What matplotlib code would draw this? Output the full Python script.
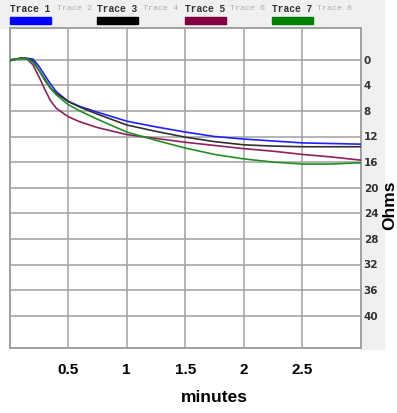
import matplotlib
matplotlib.use("Agg")
import matplotlib.pyplot as plt
from matplotlib.patches import Rectangle

# minutes
t = [0, 0.1, 0.15, 0.2, 0.25, 0.3, 0.35, 0.4, 0.5, 0.6, 0.75,
     1.0, 1.25, 1.5, 1.75, 2.0, 2.25, 2.5, 2.75, 3.0]

# ohms
trace1 = [0, -0.2, -0.2, -0.1, 1.0, 2.4, 3.8, 5.0, 6.5, 7.3, 8.2,
          9.6, 10.5, 11.3, 12.0, 12.4, 12.7, 13.0, 13.1, 13.2]
trace3 = [0.2, -0.3, -0.2, 0.2, 1.6, 3.0, 4.4, 5.3, 6.5, 7.4, 8.5,
          10.2, 11.2, 12.1, 12.8, 13.3, 13.5, 13.6, 13.6, 13.6]
trace5 = [0.1, -0.2, -0.1, 0.8, 2.6, 4.6, 6.4, 7.6, 8.9, 9.7, 10.6,
          11.7, 12.3, 12.9, 13.4, 13.9, 14.3, 14.8, 15.2, 15.7]
trace7 = [0.1, -0.2, -0.1, 0.4, 1.6, 3.2, 4.5, 5.5, 7.0, 8.0, 9.3,
          11.3, 12.6, 13.8, 14.8, 15.5, 16.0, 16.3, 16.3, 16.1]

trace_names = ["Trace 1", "Trace 2", "Trace 3", "Trace 4",
               "Trace 5", "Trace 6", "Trace 7", "Trace 8"]
trace_colors = {"Trace 1": "#0000ff", "Trace 3": "#000000",
                "Trace 5": "#800040", "Trace 7": "#008000"}

x_ticks = [0.5, 1, 1.5, 2, 2.5]
y_ticks = [0, 4, 8, 12, 16, 20, 24, 28, 32, 36, 40]

W, H = 397, 413
fig = plt.figure(figsize=(W / 100, H / 100), dpi=100)

# light gray panel behind legend and right labels
fig.patches.append(Rectangle((0, 1 - 27.7 / H), 384 / W, 27.7 / H,
                             transform=fig.transFigure, color="#f0f0f0", zorder=-1))
fig.patches.append(Rectangle((361 / W, 1 - 349 / H), 23 / W, (349 - 27.7) / H,
                             transform=fig.transFigure, color="#f0f0f0", zorder=-1))

ax = fig.add_axes([9.5 / W, 1 - 347.7 / H, (361 - 9.5) / W, (347.7 - 27.7) / H])
ax.set_facecolor("white")

line_colors = {"Trace 1": "#2020ff", "Trace 3": "#303030",
               "Trace 5": "#902060", "Trace 7": "#209020"}
for name, ys in [("Trace 1", trace1), ("Trace 3", trace3),
                 ("Trace 5", trace5), ("Trace 7", trace7)]:
    ax.plot(t, ys, color=line_colors[name], lw=1.2, zorder=3)

ax.set_xlim(0, 3)
ax.set_ylim(45, -5)
ax.set_xticks(x_ticks)
ax.set_xticklabels(["0.5", "1", "1.5", "2", "2.5"])
ax.set_yticks(y_ticks)
ax.yaxis.tick_right()
ax.grid(True, color="#a0a0a0", lw=1.1)
ax.set_axisbelow(True)
for s in ax.spines.values():
    s.set_color("#a0a0a0")
    s.set_linewidth(1.4)
ax.tick_params(axis="both", length=0)
ax.tick_params(axis="x", pad=11, labelsize=11)
ax.tick_params(axis="y", pad=2, labelsize=7.5, labelcolor="#333333")
for tk in ax.xaxis.get_major_ticks():
    for lab in (tk.label1, tk.label2):
        lab.set_fontweight("bold")
        lab.set_family("Liberation Sans")
for tk in ax.yaxis.get_major_ticks():
    for lab in (tk.label1, tk.label2):
        lab.set_fontweight("bold")
        lab.set_family("DejaVu Sans")

fig.text(214 / W, 1 - 398 / H, "minutes", ha="center", va="center",
         fontsize=12.5, fontweight="bold", family="Liberation Sans")
fig.text(390 / W, 1 - 205 / H, "Ohms", ha="center", va="center", rotation=90,
         fontsize=12.5, fontweight="bold", family="Liberation Sans")

# legend row
xs = [10, 57, 97, 143, 185, 230, 272, 317]
for x0, name in zip(xs, trace_names):
    active = name in trace_colors
    fig.text(x0 / W, 1 - 8.5 / H, name, ha="left", va="center",
             fontsize=6.9 if active else 6.0, family="Liberation Mono",
             color="#333333" if active else "#b0b0b0",
             fontweight="bold" if active else "normal")
    if active:
        fig.patches.append(Rectangle((x0 / W, 1 - 23.5 / H), 41 / W, 6.5 / H,
                                     transform=fig.transFigure,
                                     color=trace_colors[name], zorder=1))

fig.savefig("out.png", dpi=100)
